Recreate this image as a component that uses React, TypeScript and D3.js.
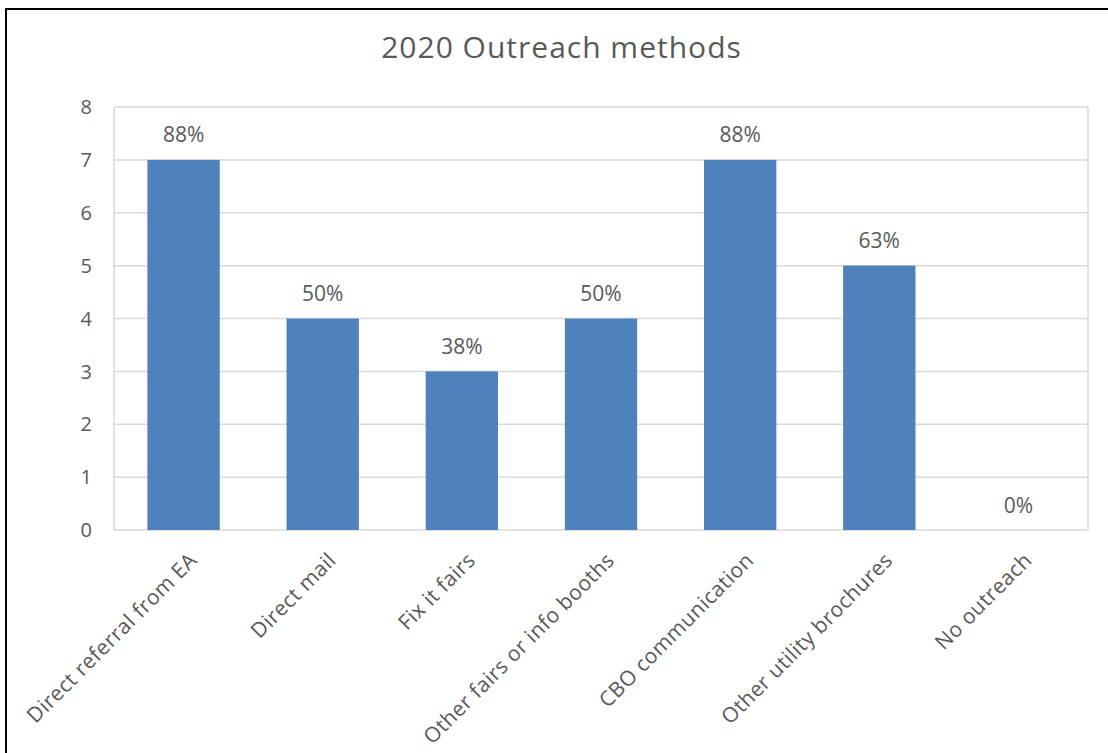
import React from "react";
import * as d3 from "d3";

const categories = [
  "Direct referral from EA",
  "Direct mail",
  "Fix it fairs",
  "Other fairs or info booths",
  "CBO communication",
  "Other utility brochures",
  "No outreach",
];
const counts = [7, 4, 3, 4, 7, 5, 0];
const percentLabels = ["88%", "50%", "38%", "50%", "88%", "63%", "0%"];
const yTicks = [0, 1, 2, 3, 4, 5, 6, 7, 8];
const title = "2020 Outreach methods";

const W = 1108;
const H = 753;
const plot = { left: 114, right: 1088, top: 107, bottom: 530 };
const FONT = "'Open Sans', sans-serif";
const TEXT = "#595959";

export default function App() {
  const x = d3
    .scaleBand<string>()
    .domain(categories)
    .range([plot.left, plot.right])
    .paddingInner(0.48)
    .paddingOuter(0.24);
  const y = d3.scaleLinear().domain([0, 8]).range([plot.bottom, plot.top]);

  return (
    <svg
      width={W}
      height={H}
      style={{ position: "absolute", left: 0, top: 0, background: "#fff" }}
    >
      <rect x={0} y={0} width={W} height={H} fill="#fff" />
      {/* outer frame */}
      <line x1={6} y1={8} x2={6} y2={H} stroke="#000" strokeWidth={2} />
      <line x1={5} y1={9} x2={W} y2={9} stroke="#000" strokeWidth={2} />

      <text
        x={561.5}
        y={58}
        textAnchor="middle"
        fontFamily={FONT}
        fontSize={30}
        letterSpacing={1}
        fill={TEXT}
      >
        {title}
      </text>

      {/* gridlines */}
      {yTicks.map((t) => (
        <line
          key={"g" + t}
          x1={plot.left}
          x2={plot.right}
          y1={y(t)}
          y2={y(t)}
          stroke="#d9d9d9"
          strokeWidth={1.5}
        />
      ))}
      <line
        x1={plot.left}
        x2={plot.left}
        y1={plot.top}
        y2={plot.bottom}
        stroke="#d9d9d9"
        strokeWidth={1.5}
      />
      <line
        x1={plot.right}
        x2={plot.right}
        y1={plot.top}
        y2={plot.bottom}
        stroke="#d9d9d9"
        strokeWidth={1.5}
      />

      {/* y tick labels */}
      {yTicks.map((t) => (
        <text
          key={"t" + t}
          x={92}
          y={y(t)}
          dy="0.36em"
          textAnchor="end"
          fontFamily={FONT}
          fontSize={20}
          fill={TEXT}
        >
          {t}
        </text>
      ))}

      {/* bars */}
      {categories.map((c, i) => (
        <rect
          key={"b" + c}
          x={x(c)}
          y={y(counts[i])}
          width={x.bandwidth()}
          height={y(0) - y(counts[i])}
          fill="#4F81BD"
        />
      ))}

      {/* data labels */}
      {categories.map((c, i) => (
        <text
          key={"l" + c}
          x={(x(c) as number) + x.bandwidth() / 2}
          y={y(counts[i]) - 17.5}
          textAnchor="middle"
          fontFamily={FONT}
          fontSize={21}
          fill={TEXT}
        >
          {percentLabels[i]}
        </text>
      ))}

      {/* category labels */}
      {categories.map((c) => {
        const cx = (x(c) as number) + x.bandwidth() / 2;
        return (
          <text
            key={"c" + c}
            transform={`translate(${cx + 4},${551}) rotate(-45)`}
            dy="0.72em"
            textAnchor="end"
            fontFamily={FONT}
            fontSize={21}
            letterSpacing={0.4}
            fill={TEXT}
          >
            {c}
          </text>
        );
      })}
    </svg>
  );
}
